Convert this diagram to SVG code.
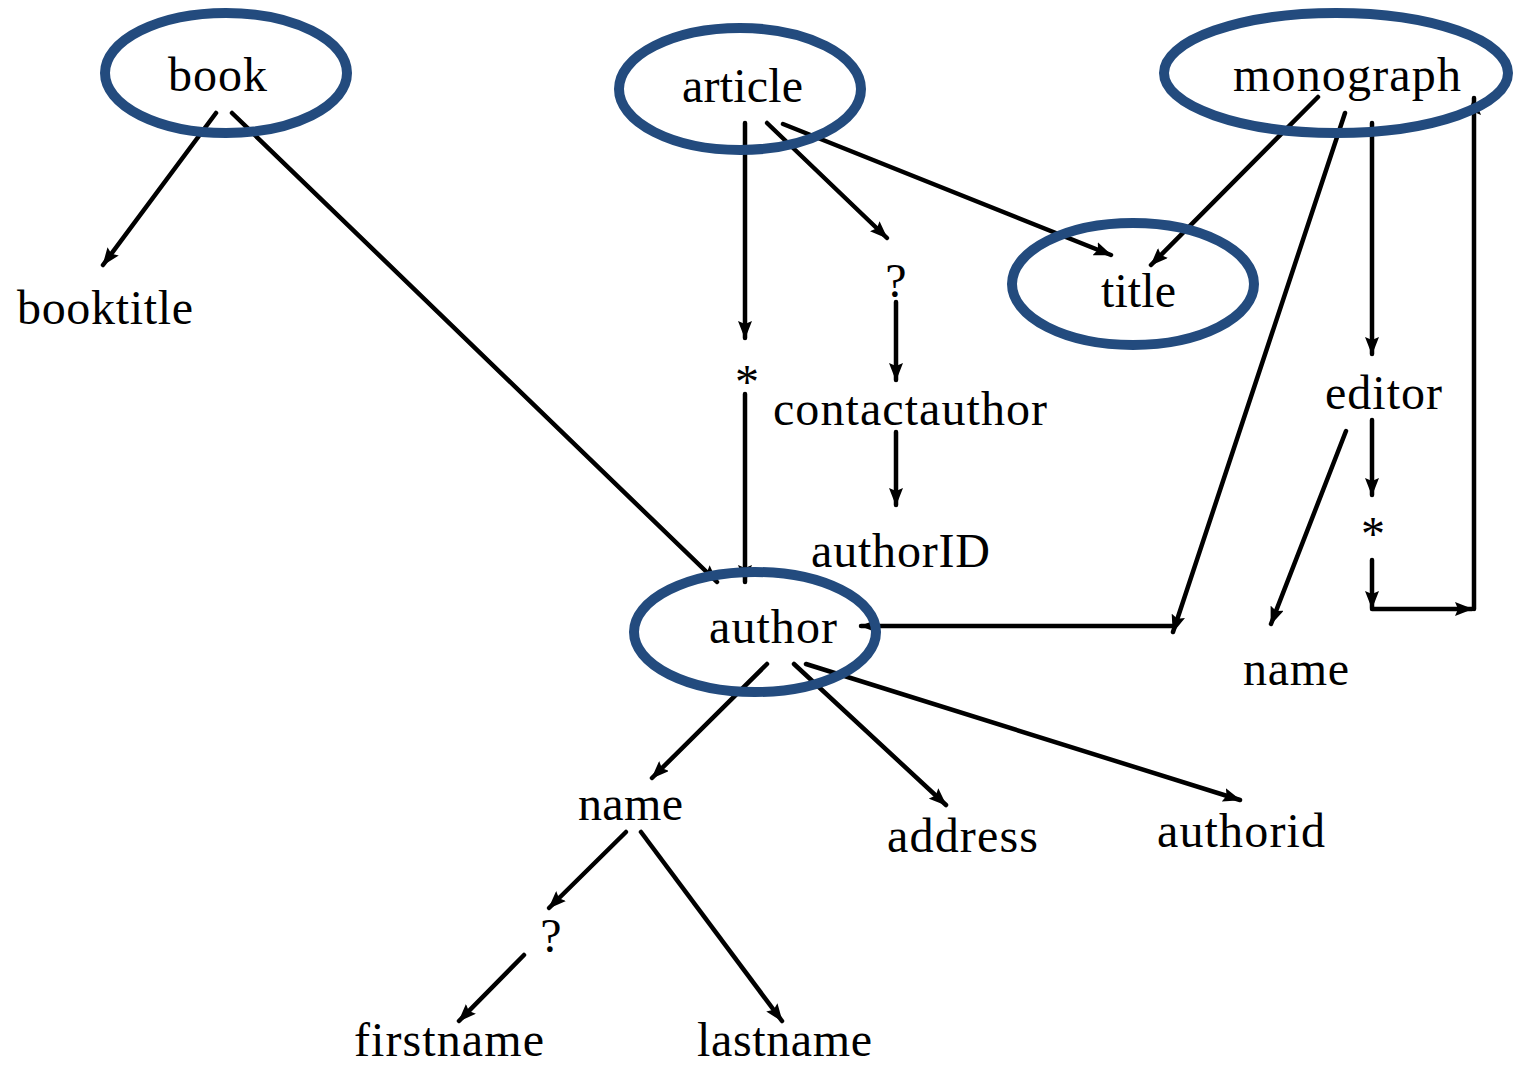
<svg xmlns="http://www.w3.org/2000/svg" width="1513" height="1067" viewBox="0 0 1513 1067">
<style>
  text { font-family: "Liberation Serif", "Times New Roman", serif; font-size: 48px; fill: #000; }
  .mid { text-anchor: middle; }
  .conn line { stroke: #000; stroke-width: 4.5; stroke-linecap: round; fill: none; }
  .arr { marker-end: url(#ah); }
  .node ellipse { fill: none; stroke: #234b7e; stroke-width: 10; }
</style>
<defs>
  <marker id="ah" viewBox="0 0 18 14" refX="17" refY="7" markerWidth="18" markerHeight="14" markerUnits="userSpaceOnUse" orient="auto">
    <path d="M0,0 L18,7 L0,14 L3,7 z" fill="#000"/>
  </marker>
</defs>
<rect width="1513" height="1067" fill="#fff"/>

<g id="connectors" class="conn">
  <line class="arr" x1="216" y1="113" x2="103" y2="265"/>
  <line class="arr" x1="232" y1="113" x2="717" y2="582"/>
  <line class="arr" x1="745" y1="123" x2="745" y2="338"/>
  <line class="arr" x1="767" y1="123" x2="887" y2="238"/>
  <line class="arr" x1="783" y1="124" x2="1111" y2="255"/>
  <line class="arr" x1="896" y1="302" x2="896" y2="380"/>
  <line class="arr" x1="745" y1="394" x2="745" y2="582"/>
  <line class="arr" x1="896" y1="432" x2="896" y2="505"/>
  <line class="arr" x1="1318" y1="97" x2="1151" y2="265"/>
  <line class="arr" x1="1345" y1="113" x2="1173" y2="632"/>
  <line class="arr" x1="1172" y1="626" x2="861" y2="626"/>
  <line class="arr" x1="1372" y1="123" x2="1372" y2="354"/>
  <line class="arr" x1="1372" y1="420" x2="1372" y2="495"/>
  <line class="arr" x1="1372" y1="560" x2="1372" y2="608"/>
  <line class="arr" x1="1372" y1="609" x2="1472" y2="609"/>
  <line class="arr" x1="1474" y1="609" x2="1474" y2="98"/>
  <line class="arr" x1="1346" y1="431" x2="1271" y2="624"/>
  <line class="arr" x1="767" y1="664" x2="652" y2="778"/>
  <line class="arr" x1="794" y1="664" x2="946" y2="805"/>
  <line class="arr" x1="806" y1="664" x2="1240" y2="800"/>
  <line class="arr" x1="626" y1="832" x2="549" y2="908"/>
  <line class="arr" x1="641" y1="832" x2="782" y2="1021"/>
  <line class="arr" x1="524" y1="955" x2="459" y2="1021"/>
</g>

<g id="book" class="node">
  <ellipse cx="226" cy="73" rx="121" ry="60"/>
  <text x="168" y="91" textLength="99" lengthAdjust="spacing">book</text>
</g>
<g id="article" class="node">
  <ellipse cx="740" cy="89" rx="121" ry="61"/>
  <text x="682" y="102" textLength="121" lengthAdjust="spacing">article</text>
</g>
<g id="monograph" class="node">
  <ellipse cx="1336" cy="73" rx="172" ry="60"/>
  <text x="1233" y="91" textLength="228" lengthAdjust="spacing">monograph</text>
</g>
<g id="title" class="node">
  <ellipse cx="1133" cy="284" rx="121" ry="61"/>
  <text x="1101" y="307" textLength="75" lengthAdjust="spacing">title</text>
</g>
<g id="author" class="node">
  <ellipse cx="755" cy="632" rx="121" ry="60"/>
  <text x="709" y="643" textLength="128" lengthAdjust="spacing">author</text>
</g>
<g id="booktitle" class="node">
  <text x="17" y="324" textLength="176" lengthAdjust="spacing">booktitle</text>
</g>
<g id="q1" class="node">
  <text class="mid" x="896" y="297">?</text>
</g>
<g id="star1" class="node">
  <text class="mid" x="747" y="398">*</text>
</g>
<g id="contactauthor" class="node">
  <text x="773" y="425" textLength="274" lengthAdjust="spacing">contactauthor</text>
</g>
<g id="authorID" class="node">
  <text x="811" y="567" textLength="179" lengthAdjust="spacing">authorID</text>
</g>
<g id="editor" class="node">
  <text x="1325" y="409" textLength="117" lengthAdjust="spacing">editor</text>
</g>
<g id="star2" class="node">
  <text class="mid" x="1373" y="550">*</text>
</g>
<g id="name2" class="node">
  <text x="1243" y="685" textLength="106" lengthAdjust="spacing">name</text>
</g>
<g id="name1" class="node">
  <text x="578" y="820" textLength="105" lengthAdjust="spacing">name</text>
</g>
<g id="address" class="node">
  <text x="887" y="852" textLength="151" lengthAdjust="spacing">address</text>
</g>
<g id="authorid" class="node">
  <text x="1157" y="847" textLength="168" lengthAdjust="spacing">authorid</text>
</g>
<g id="q2" class="node">
  <text class="mid" x="551" y="952">?</text>
</g>
<g id="firstname" class="node">
  <text x="354" y="1056" textLength="190" lengthAdjust="spacing">firstname</text>
</g>
<g id="lastname" class="node">
  <text x="697" y="1056" textLength="175" lengthAdjust="spacing">lastname</text>
</g>
</svg>
